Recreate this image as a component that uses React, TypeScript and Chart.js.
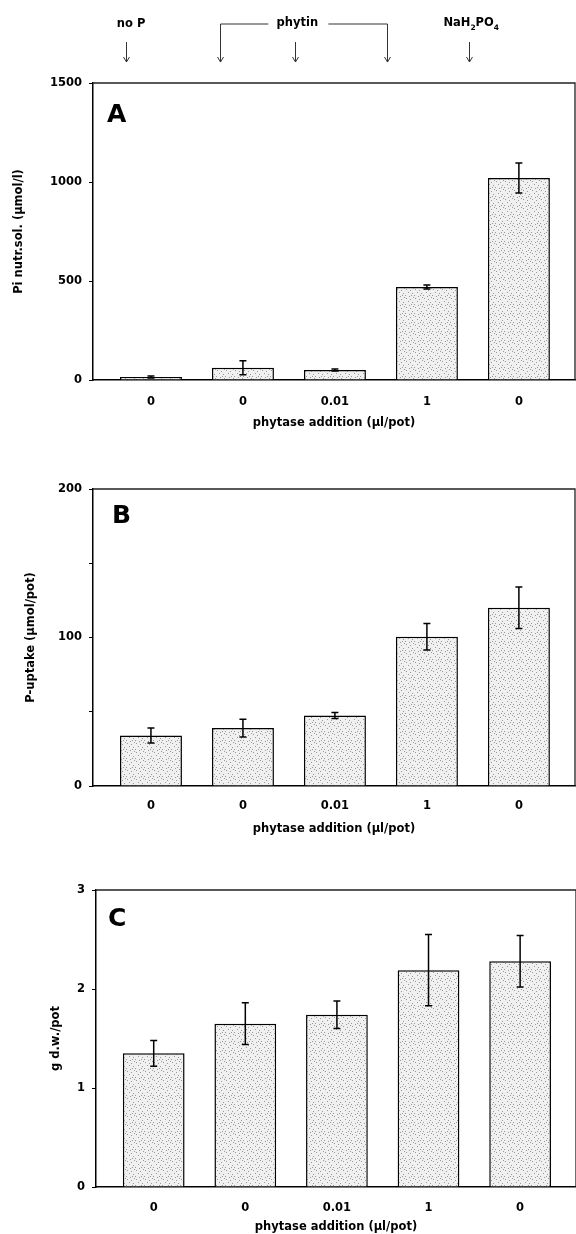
import React, { useEffect, useRef } from "react";
import { Chart, registerables } from "chart.js";

Chart.register(...registerables);

// ---- data ----
const categories = ["0", "0", "0.01", "1", "0"];
const piValues = [15, 62, 50, 470, 1020];
const piErrors = [5, 35, 5, 10, 76];
const uptakeValues = [34, 39, 47.5, 100.5, 120];
const uptakeErrors = [5, 6, 2, 9, 14];
const dwValues = [1.35, 1.65, 1.74, 2.19, 2.28];
const dwErrors = [0.13, 0.21, 0.14, 0.36, 0.26];
const piTicks = [0, 500, 1000, 1500];
const uptakeTicks = [0, 50, 100, 150, 200];
const uptakeLabelled = [0, 100, 200];
const dwTicks = [0, 1, 2, 3];
const xTitle = "phytase addition (µl/pot)";
// treatment annotations above panel A (positions in x-axis units)
const singleArrows = [-0.27, 1.57, 3.46];
const bracketArrows = [0.75, 2.57];

const FONT = "DejaVu Sans";
const tickFont = { family: FONT, size: 11.5, weight: "bold" as const };

function makePattern(): CanvasPattern | string {
  const c = document.createElement("canvas");
  c.width = 9;
  c.height = 9;
  const g = c.getContext("2d");
  if (!g) return "#ececec";
  g.fillStyle = "#f0f0f0";
  g.fillRect(0, 0, 9, 9);
  g.fillStyle = "#999";
  const dots = [[1, 1], [5, 2], [3, 4], [7, 5], [0, 7], [4, 8], [8, 0], [6, 7]];
  dots.forEach(([x, y]) => g.fillRect(x, y, 1, 1));
  return g.createPattern(c, "repeat") || "#ececec";
}

type Panel = {
  letter: string;
  values: number[];
  errors: number[];
  yMax: number;
  yTicks: number[];
  yLabelled: number[];
  yTitle: string;
  canvasTop: number;
  canvasH: number;
  padTop: number;
  padLeft: number;
  padRight: number;
  yWidth: number;
  xHeight: number;
  xPad: number;
  letterDx: number;
  letterDy: number;
  annotate: boolean;
};

const panels: Panel[] = [
  {
    letter: "A", values: piValues, errors: piErrors, yMax: 1500, yTicks: piTicks, yLabelled: piTicks,
    yTitle: "Pi nutr.sol. (µmol/l)", canvasTop: 0, canvasH: 432, padTop: 83, padLeft: 12, padRight: 1,
    yWidth: 81, xHeight: 50, xPad: 15, letterDx: 14, letterDy: 39, annotate: true,
  },
  {
    letter: "B", values: uptakeValues, errors: uptakeErrors, yMax: 200, yTicks: uptakeTicks, yLabelled: uptakeLabelled,
    yTitle: "P-uptake (µmol/pot)", canvasTop: 436, canvasH: 400, padTop: 53, padLeft: 24, padRight: 1,
    yWidth: 69, xHeight: 50, xPad: 13, letterDx: 19, letterDy: 34, annotate: false,
  },
  {
    letter: "C", values: dwValues, errors: dwErrors, yMax: 3, yTicks: dwTicks, yLabelled: dwTicks,
    yTitle: "g d.w./pot", canvasTop: 836, canvasH: 398, padTop: 54, padLeft: 49, padRight: 0,
    yWidth: 47, xHeight: 47, xPad: 14, letterDx: 12, letterDy: 36, annotate: false,
  },
];

function drawArrowHead(ctx: CanvasRenderingContext2D, x: number, y: number) {
  ctx.beginPath();
  ctx.moveTo(x - 3, y - 5);
  ctx.lineTo(x, y);
  ctx.lineTo(x + 3, y - 5);
  ctx.stroke();
}

function makeConfig(p: Panel, pattern: CanvasPattern | string): any {
  const panelPlugin = {
    id: "panelExtras" + p.letter,
    afterDatasetsDraw(chart: any) {
      const { ctx, scales } = chart;
      const xs = scales.x;
      const ys = scales.y;
      ctx.save();
      ctx.strokeStyle = "#000";
      ctx.lineWidth = 1.5;
      p.values.forEach((v, i) => {
        const e = p.errors[i];
        const x = xs.getPixelForValue(i);
        const yT = ys.getPixelForValue(v + e);
        const yB = ys.getPixelForValue(v - e);
        ctx.beginPath();
        ctx.moveTo(x, yT);
        ctx.lineTo(x, yB);
        ctx.moveTo(x - 3.5, yT);
        ctx.lineTo(x + 3.5, yT);
        ctx.moveTo(x - 3.5, yB);
        ctx.lineTo(x + 3.5, yB);
        ctx.stroke();
      });
      ctx.restore();
    },
    afterDraw(chart: any) {
      const { ctx, chartArea, scales } = chart;
      const xs = scales.x;
      ctx.save();
      // frame top & right
      ctx.strokeStyle = "#222";
      ctx.lineWidth = 1.3;
      ctx.beginPath();
      ctx.moveTo(chartArea.left, chartArea.top);
      ctx.lineTo(chartArea.right, chartArea.top);
      ctx.lineTo(chartArea.right, chartArea.bottom);
      ctx.stroke();
      // panel letter
      ctx.fillStyle = "#000";
      ctx.font = `bold 25px "${FONT}"`;
      ctx.textAlign = "left";
      ctx.textBaseline = "alphabetic";
      ctx.fillText(p.letter, chartArea.left + p.letterDx, chartArea.top + p.letterDy);
      if (p.annotate) {
        const textY = 24;
        const arrowTop = 42;
        const arrowBot = 62;
        ctx.strokeStyle = "#333";
        ctx.lineWidth = 1;
        singleArrows.forEach((v) => {
          const x = Math.round(xs.getPixelForValue(v)) + 0.5;
          ctx.beginPath();
          ctx.moveTo(x, arrowTop);
          ctx.lineTo(x, arrowBot);
          ctx.stroke();
          drawArrowHead(ctx, x, arrowBot);
        });
        const xL = Math.round(xs.getPixelForValue(bracketArrows[0])) + 0.5;
        const xR = Math.round(xs.getPixelForValue(bracketArrows[1])) + 0.5;
        const xMid = xs.getPixelForValue(singleArrows[1]);
        ctx.beginPath();
        ctx.moveTo(xL, arrowBot);
        ctx.lineTo(xL, textY);
        ctx.lineTo(xMid - 27, textY);
        ctx.moveTo(xMid + 33, textY);
        ctx.lineTo(xR, textY);
        ctx.lineTo(xR, arrowBot);
        ctx.stroke();
        drawArrowHead(ctx, xL, arrowBot);
        drawArrowHead(ctx, xR, arrowBot);

        ctx.fillStyle = "#000";
        ctx.font = `bold 11.5px "${FONT}"`;
        ctx.textAlign = "center";
        ctx.textBaseline = "middle";
        ctx.fillText("no P", xs.getPixelForValue(singleArrows[0]) + 5, textY);
        ctx.fillText("phytin", xMid + 2, textY - 1);
        // NaH2PO4 with subscripts
        const big = `bold 11.5px "${FONT}"`;
        const small = `bold 7.5px "${FONT}"`;
        const parts: [string, boolean][] = [["NaH", false], ["2", true], ["PO", false], ["4", true]];
        let total = 0;
        parts.forEach(([t, s]) => {
          ctx.font = s ? small : big;
          total += ctx.measureText(t).width;
        });
        let cx = xs.getPixelForValue(singleArrows[2]) + 2 - total / 2;
        ctx.textAlign = "left";
        parts.forEach(([t, s]) => {
          ctx.font = s ? small : big;
          ctx.fillText(t, cx, s ? textY + 4 : textY - 1);
          cx += ctx.measureText(t).width;
        });
      }
      ctx.restore();
    },
  };

  return {
    type: "bar",
    data: {
      datasets: [
        {
          data: p.values.map((v, i) => ({ x: i, y: v })),
          backgroundColor: pattern,
          borderColor: "#000",
          borderWidth: 1.5,
          borderSkipped: "bottom",
          categoryPercentage: 1,
          barPercentage: 0.674,
        },
      ],
    },
    options: {
      responsive: false,
      maintainAspectRatio: false,
      animation: false,
      layout: {
        padding: {
          top: p.padTop,
          left: p.padLeft,
          right: p.padRight,
          bottom: Math.max(0, p.canvasH - p.padTop - 297 - p.xHeight),
        },
      },
      plugins: { legend: { display: false }, tooltip: { enabled: false }, title: { display: false } },
      scales: {
        x: {
          type: "linear",
          offset: false,
          min: -0.63,
          max: 4.61,
          afterBuildTicks: (s: any) => {
            s.ticks = categories.map((_, i) => ({ value: i }));
          },
          afterFit: (s: any) => {
            s.height = p.xHeight;
          },
          ticks: {
            callback: (v: any) => categories[Math.round(Number(v))] ?? "",
            font: tickFont,
            color: "#000",
            padding: p.xPad,
            maxRotation: 0,
            autoSkip: false,
          },
          grid: { display: true, offset: false, drawOnChartArea: false, drawTicks: false },
          border: { display: true, color: "#000", width: 1.5 },
          title: {
            display: true,
            text: xTitle,
            font: tickFont,
            color: "#000",
            padding: { top: 0, bottom: 0 },
          },
        },
        y: {
          type: "linear",
          min: 0,
          max: p.yMax,
          afterBuildTicks: (s: any) => {
            s.ticks = p.yTicks.map((v) => ({ value: v }));
          },
          afterFit: (s: any) => {
            s.width = p.yWidth;
          },
          ticks: {
            callback: (v: any) => (p.yLabelled.includes(Number(v)) ? String(v) : ""),
            font: tickFont,
            color: "#000",
            padding: 7,
            autoSkip: false,
          },
          grid: { display: true, drawOnChartArea: false, drawTicks: true, tickLength: 4, color: "#000", lineWidth: 1 },
          border: { display: true, color: "#000", width: 1.5 },
          title: {
            display: true,
            text: p.yTitle,
            font: tickFont,
            color: "#000",
            padding: { top: 0, bottom: 0 },
          },
        },
      },
    },
    plugins: [panelPlugin],
  };
}

export default function App() {
  const canvasRefs = useRef<(HTMLCanvasElement | null)[]>([]);

  useEffect(() => {
    const pattern = makePattern();
    const charts = panels.map((p, i) => {
      const el = canvasRefs.current[i] as HTMLCanvasElement;
      return new Chart(el, makeConfig(p, pattern));
    });
    return () => charts.forEach((c) => c.destroy());
  }, []);

  return (
    <div style={{ position: "absolute", left: 0, top: 0, width: 576, height: 1234, background: "#fff" }}>
      {panels.map((p, i) => (
        <canvas
          key={p.letter}
          ref={(el) => {
            canvasRefs.current[i] = el;
          }}
          width={576}
          height={p.canvasH}
          style={{ position: "absolute", left: 0, top: p.canvasTop, width: 576, height: p.canvasH, display: "block" }}
        />
      ))}
    </div>
  );
}
